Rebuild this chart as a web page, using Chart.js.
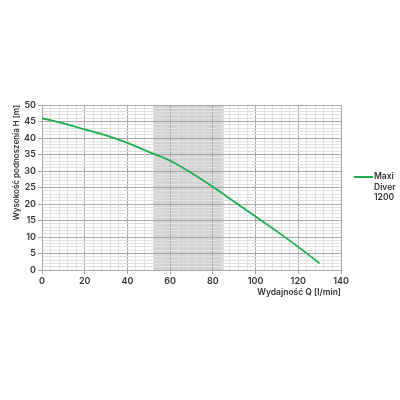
<!DOCTYPE html>
<html>
<head>
<meta charset="utf-8">
<script src="https://cdn.jsdelivr.net/npm/chart.js@4"></script>
<style>
  body { margin: 0; background: #fff; }
  #wrap { position: relative; width: 400px; height: 400px; }
  #legend { position: absolute; left: 354px; top: 171px; font: 600 8.5px Inter, sans-serif; color: #333; line-height: 10.5px; }
  #legend .swatch { position: absolute; left: 0; top: 5px; width: 19px; height: 2px; background: #1fae4f; }
  #legend .txt { margin-left: 20px; }
</style>
</head>
<body>
<div id="wrap">
  <canvas id="chart" width="400" height="400"></canvas>
  <div id="legend"><div class="swatch"></div><div class="txt">Maxi<br>Diver<br>1200</div></div>
</div>
<script>
// Flow Q [l/min] and head H [m]
const flowValues = [0, 10, 20, 30, 40, 50, 60, 70, 80, 90, 100, 110, 120, 130];
const headValues = [46, 44.4, 42.6, 40.8, 38.5, 35.8, 33.1, 29.4, 25.2, 20.7, 16.2, 11.7, 7.0, 2.0];
const seriesLabel = 'Maxi Diver 1200';
const workRange = [52, 85];

const xTitle = 'Wydajność Q [l/min]';
const yTitle = 'Wysokość podnoszenia H [m]';

const points = flowValues.map((q, i) => ({ x: q, y: headValues[i] }));

// gray band for the recommended working range
const bandPlugin = {
    id: 'band',
    beforeDraw(chart) {
        const { ctx, chartArea, scales } = chart;
        const x1 = scales.x.getPixelForValue(workRange[0]);
        const x2 = scales.x.getPixelForValue(workRange[1]);
        ctx.save();
        ctx.fillStyle = '#d4d4d4';
        ctx.fillRect(x1, chartArea.top, x2 - x1, chartArea.bottom - chartArea.top);
        ctx.restore();
    }
};

const tickFont = { family: 'Inter', size: 9, weight: '600' };

new Chart(document.getElementById('chart'), {
    type: 'line',
    data: {
        datasets: [{
            label: seriesLabel,
            data: points,
            borderColor: '#1fae4f',
            borderWidth: 1.8,
            pointRadius: 0,
            cubicInterpolationMode: 'monotone',
            fill: false
        }]
    },
    options: {
        responsive: false,
        animation: false,
        layout: { padding: { left: 8, top: 105, right: 59, bottom: 98 } },
        plugins: { legend: { display: false }, tooltip: { enabled: false } },
        scales: {
            x: {
                type: 'linear',
                min: 0, max: 140,
                afterFit: s => { s.height = 32; },
                ticks: {
                    stepSize: 4,
                    autoSkip: false,
                    maxRotation: 0,
                    color: '#333',
                    font: tickFont,
                    padding: 2,
                    callback: v => (v % 20 === 0 ? v : '')
                },
                grid: {
                    color: c => (c.tick && c.tick.value % 20 === 0 ? '#a8a8a8' : '#e0e0e0'),
                    tickLength: 4,
                    tickColor: c => (c.tick && c.tick.value % 20 === 0 ? '#a8a8a8' : 'rgba(0,0,0,0)')
                },
                border: { color: '#a8a8a8' },
                title: {
                    display: true,
                    text: xTitle,
                    align: 'end',
                    color: '#333',
                    font: { family: 'Inter', size: 8.5, weight: '600' },
                    padding: { top: 4 }
                }
            },
            y: {
                min: 0, max: 50,
                afterFit: s => { s.width = 34; },
                ticks: {
                    stepSize: 1,
                    autoSkip: false,
                    color: '#333',
                    font: tickFont,
                    padding: 2,
                    callback: v => (v % 5 === 0 ? v : '')
                },
                grid: {
                    color: c => (c.tick && c.tick.value % 5 === 0 ? '#a8a8a8' : '#e0e0e0'),
                    tickLength: 4,
                    tickColor: c => (c.tick && c.tick.value % 5 === 0 ? '#a8a8a8' : 'rgba(0,0,0,0)')
                },
                border: { color: '#a8a8a8' },
                title: {
                    display: true,
                    text: yTitle,
                    align: 'end',
                    color: '#333',
                    font: { family: 'Inter', size: 8, weight: '600' },
                    padding: { bottom: 0 }
                }
            }
        }
    },
    plugins: [bandPlugin]
});
</script>
</body>
</html>
